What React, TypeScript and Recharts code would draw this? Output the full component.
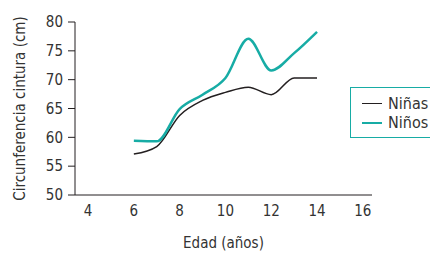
import { LineChart, Line, XAxis, YAxis } from "recharts";

const ages = [6, 7, 8, 9, 10, 11, 12, 13, 14];
const ninas = [57.1, 58.4, 63.8, 66.4, 67.8, 68.7, 67.4, 70.3, 70.3];
const ninos = [59.4, 59.3, 64.9, 67.4, 70.3, 77.1, 71.6, 74.6, 78.3];
const xTicks = [4, 6, 8, 10, 12, 14, 16];
const yTicks = [50, 55, 60, 65, 70, 75, 80];
const seriesNames = ["Niñas", "Niños"];

const data = ages.map((edad, i) => ({ edad, ninas: ninas[i], ninos: ninos[i] }));

const font = "'Liberation Sans Narrow', 'DejaVu Sans Condensed', 'Open Sans', sans-serif";
const teal = "#17aca5";
const dark = "#231f20";
const textColor = "#333";

const legendItems = [
  { name: seriesNames[0], color: dark, width: 1.5 },
  { name: seriesNames[1], color: teal, width: 2.5 },
];

export default function App() {
  return (
    <div style={{ position: "absolute", left: 0, top: 0, width: 430, height: 254, overflow: "hidden", background: "#fff" }}>
      <LineChart width={430} height={254} data={data} margin={{ top: 22, right: 58, left: 15, bottom: 0 }}>
        <XAxis
          dataKey="edad"
          type="number"
          domain={[3.43, 16.4]}
          ticks={xTicks}
          interval={0}
          allowDataOverflow
          height={59}
          tickLine={false}
          tickSize={4}
          tickMargin={6}
          stroke={dark}
          tick={{ fill: textColor, fontSize: 15, fontFamily: font }}
          label={{ value: "Edad (años)", position: "insideBottom", offset: 6, fill: textColor, fontSize: 15, fontFamily: font }}
        />
        <YAxis
          type="number"
          domain={[50, 80]}
          ticks={yTicks}
          interval={0}
          width={60}
          tickSize={7}
          tickMargin={5}
          stroke={dark}
          tick={{ fill: textColor, fontSize: 15, fontFamily: font }}
          label={{ value: "Circunferencia cintura (cm)", angle: -90, position: "center", dx: -25, fill: textColor, fontSize: 15, fontFamily: font }}
        />
        <Line
          dataKey="ninas"
          name={seriesNames[0]}
          type="monotone"
          stroke={dark}
          strokeWidth={1.5}
          dot={false}
          isAnimationActive={false}
        />
        <Line
          dataKey="ninos"
          name={seriesNames[1]}
          type="monotone"
          stroke={teal}
          strokeWidth={2.5}
          dot={false}
          isAnimationActive={false}
        />
      </LineChart>
      <div
        style={{
          position: "absolute",
          left: 350,
          top: 87,
          width: 100,
          height: 51,
          boxSizing: "border-box",
          border: `1.5px solid ${teal}`,
          padding: "6px 10px 0 11px",
          fontFamily: font,
          fontSize: 16,
          color: textColor,
          background: "#fff",
        }}
      >
        {legendItems.map((p) => (
          <div key={p.name} style={{ display: "flex", alignItems: "center", height: 19 }}>
            <span
              style={{
                display: "inline-block",
                width: 20,
                height: 0,
                borderTop: `${p.width}px solid ${p.color}`,
                marginRight: 6,
              }}
            />
            {p.name}
          </div>
        ))}
      </div>
    </div>
  );
}
